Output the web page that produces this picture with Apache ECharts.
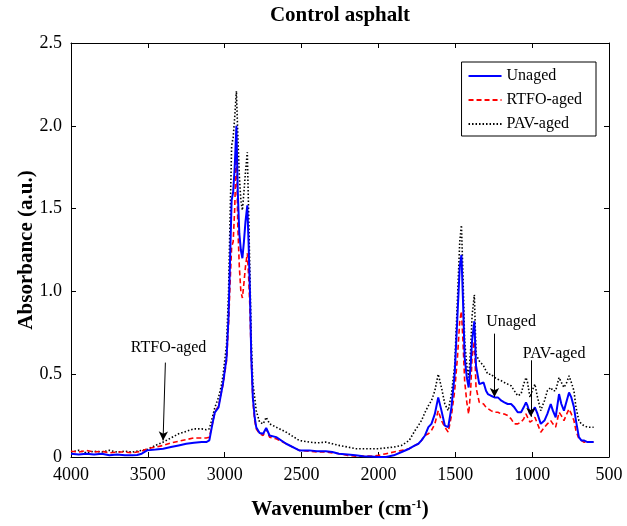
<!DOCTYPE html>
<html><head><meta charset="utf-8">
<script src="https://cdn.jsdelivr.net/npm/echarts@6/dist/echarts.min.js"></script>
<style>html,body{margin:0;padding:0;background:#fff}#c{width:627px;height:526px}</style>
</head><body><div id="c"></div>
<script>
const wavenumbers = [4000,3950,3900,3850,3800,3750,3700,3650,3600,3570,3540,3505,3450,3400,3350,3300,3250,3200,3150,3120,3100,3080,3064,3040,3020,3010,2988,2975,2965,2955,2945,2935,2924,2915,2905,2895,2885,2875,2865,2853,2845,2836,2827,2817,2805,2795,2773,2750,2730,2708,2665,2600,2515,2450,2400,2343,2300,2257,2200,2149,2100,2050,2000,1950,1900,1849,1800,1762,1740,1720,1697,1675,1655,1633,1611,1590,1568,1546,1525,1504,1486,1471,1460,1450,1439,1425,1413,1400,1391,1376,1365,1344,1331,1316,1300,1288,1268,1245,1223,1200,1181,1159,1137,1116,1094,1072,1055,1040,1030,1014,1000,982,965,944,920,901,879,865,847,825,810,793,775,760,745,728,715,696,680,664,640,620,600];
const unaged = [0.02,0.015,0.02,0.015,0.02,0.01,0.015,0.01,0.01,0.012,0.02,0.04,0.045,0.05,0.06,0.07,0.08,0.086,0.09,0.09,0.1,0.2,0.27,0.3,0.4,0.45,0.6,0.85,1.2,1.55,1.6,1.75,2.0,1.6,1.35,1.25,1.2,1.3,1.42,1.52,1.3,1.0,0.6,0.36,0.24,0.18,0.145,0.14,0.175,0.13,0.12,0.08,0.04,0.04,0.035,0.035,0.03,0.02,0.015,0.01,0.005,0.003,0.0,0.0,0.01,0.03,0.05,0.07,0.08,0.1,0.13,0.18,0.2,0.26,0.36,0.28,0.19,0.18,0.3,0.5,0.85,1.15,1.22,0.95,0.6,0.48,0.42,0.55,0.7,0.82,0.55,0.44,0.45,0.45,0.4,0.38,0.37,0.36,0.36,0.34,0.33,0.32,0.32,0.3,0.27,0.27,0.3,0.33,0.31,0.26,0.27,0.3,0.26,0.2,0.22,0.26,0.32,0.28,0.24,0.38,0.32,0.28,0.34,0.39,0.36,0.3,0.22,0.12,0.1,0.1,0.09,0.09,0.09];
const rtfoAged = [0.035,0.03,0.04,0.03,0.035,0.025,0.03,0.03,0.025,0.03,0.035,0.05,0.06,0.07,0.085,0.095,0.105,0.115,0.115,0.115,0.12,0.2,0.27,0.31,0.4,0.44,0.58,0.8,1.05,1.27,1.3,1.5,1.88,1.4,1.15,1.0,0.96,1.05,1.15,1.23,1.1,0.9,0.58,0.34,0.22,0.17,0.14,0.13,0.17,0.12,0.11,0.08,0.04,0.035,0.03,0.03,0.025,0.02,0.01,0.005,0.005,0.005,0.01,0.02,0.03,0.04,0.05,0.07,0.08,0.1,0.13,0.14,0.16,0.2,0.28,0.22,0.18,0.15,0.25,0.4,0.6,0.82,0.88,0.7,0.46,0.33,0.26,0.4,0.6,0.7,0.42,0.33,0.32,0.32,0.3,0.29,0.28,0.27,0.27,0.26,0.26,0.25,0.23,0.2,0.2,0.21,0.23,0.26,0.24,0.21,0.22,0.24,0.2,0.15,0.18,0.2,0.22,0.2,0.18,0.27,0.25,0.22,0.26,0.29,0.26,0.22,0.16,0.11,0.1,0.09,0.09,0.09,0.09];
const pavAged = [0.03,0.04,0.025,0.035,0.03,0.04,0.03,0.035,0.03,0.035,0.04,0.045,0.07,0.09,0.115,0.14,0.155,0.17,0.17,0.165,0.17,0.24,0.3,0.36,0.44,0.5,0.68,1.0,1.45,1.88,1.93,2.05,2.21,1.95,1.7,1.55,1.49,1.6,1.72,1.84,1.5,1.1,0.7,0.45,0.36,0.28,0.21,0.2,0.24,0.2,0.18,0.15,0.1,0.09,0.085,0.09,0.08,0.07,0.06,0.05,0.05,0.05,0.05,0.055,0.06,0.07,0.1,0.16,0.19,0.22,0.27,0.31,0.34,0.4,0.5,0.42,0.32,0.28,0.38,0.55,0.95,1.3,1.4,1.1,0.7,0.55,0.48,0.65,0.85,0.98,0.62,0.58,0.57,0.55,0.52,0.5,0.5,0.48,0.47,0.46,0.45,0.44,0.43,0.4,0.37,0.38,0.44,0.48,0.45,0.36,0.4,0.44,0.36,0.28,0.34,0.4,0.42,0.4,0.4,0.48,0.45,0.42,0.45,0.49,0.45,0.4,0.3,0.22,0.2,0.19,0.18,0.18,0.18];
const seriesNames = ['Unaged','RTFO-aged','PAV-aged'];
const xTicks = {min:500, max:4000, interval:500};
const yTicks = {min:0, max:2.5, interval:0.5};
// annotations: [label, labelX, labelY, arrowFromX, arrowFromY, arrowToX, arrowToY]
const annotations = [
  ['RTFO-aged', 3365, 0.66, 3386, 0.57, 3401, 0.1],
  ['Unaged', 1137, 0.815, 1245, 0.745, 1245, 0.363],
  ['PAV-aged', 857, 0.625, 1008, 0.584, 1008, 0.243]
];

const font = 'Liberation Serif, Times New Roman, serif';
const pair = arr => wavenumbers.map((w,i)=>[w,arr[i]]);

const chart = echarts.init(document.getElementById('c'));
const axisCommon = {
  axisLine:{show:true,onZero:false,lineStyle:{color:'#000',width:1}},
  axisTick:{show:true,inside:true,length:5,lineStyle:{color:'#000'}},
  splitLine:{show:false}
};
chart.setOption({
  animation:false,
  backgroundColor:'#fff',
  title:{text:'Control asphalt',left:335,top:0,textAlign:'center',
    textStyle:{fontFamily:font,fontWeight:'bold',fontSize:21,color:'#000'}},
  grid:{left:71,right:18,top:43,bottom:69},
  legend:{
    data:seriesNames, orient:'vertical', right:31, top:62,
    backgroundColor:'#fff', borderColor:'#000', borderWidth:1,
    padding:[6,14,4,6], itemGap:8, itemWidth:33, itemHeight:14,
    itemStyle:{opacity:0},
    textStyle:{fontFamily:font,fontSize:16,color:'#000'}
  },
  xAxis:[
    Object.assign({type:'value',inverse:true,min:xTicks.min,max:xTicks.max,interval:xTicks.interval,
      axisLabel:{fontFamily:font,fontSize:18,color:'#000',margin:9,formatter:v=>String(v)},
      name:'{a|Wavenumber (cm}{s|-1}{a|)}',nameLocation:'middle',nameGap:42,nameMoveOverlap:false,
      nameTextStyle:{rich:{a:{fontFamily:font,fontSize:21,fontWeight:'bold',color:'#000'},
        s:{fontFamily:font,fontSize:12,fontWeight:'bold',color:'#000',verticalAlign:'top',padding:[0,0,9,0]}}}
    },axisCommon),
    Object.assign({type:'value',inverse:true,position:'top',min:xTicks.min,max:xTicks.max,interval:xTicks.interval,
      axisLabel:{show:false}},axisCommon)
  ],
  yAxis:[
    Object.assign({type:'value',min:yTicks.min,max:yTicks.max,interval:yTicks.interval,
      axisLabel:{fontFamily:font,fontSize:18,color:'#000',margin:9,
        formatter:v=>v===0?'0':v.toFixed(1)},
      name:'Absorbance (a.u.)',nameLocation:'middle',nameGap:34,nameMoveOverlap:false,
      nameTextStyle:{fontFamily:font,fontSize:21,fontWeight:'bold',color:'#000'}
    },axisCommon),
    Object.assign({type:'value',position:'right',min:yTicks.min,max:yTicks.max,interval:yTicks.interval,
      axisLabel:{show:false}},axisCommon)
  ],
  series:[
    {name:seriesNames[2],type:'line',data:pair(pavAged),symbol:'none',z:2,
      lineStyle:{color:'#000',width:1.6,type:[1.5,2]},itemStyle:{color:'#000'}},
    {name:seriesNames[1],type:'line',data:pair(rtfoAged),symbol:'none',z:3,
      lineStyle:{color:'#ff0000',width:1.6,type:[5,3]},itemStyle:{color:'#ff0000'}},
    {name:seriesNames[0],type:'line',data:pair(unaged),symbol:'none',z:4,
      lineStyle:{color:'#0000ff',width:2},itemStyle:{color:'#0000ff'},
      markLine:{silent:true,symbol:['none','arrow'],symbolSize:[7,9],
        lineStyle:{color:'#000',width:1,type:'solid'},label:{show:false},
        data:annotations.map(a=>[{coord:[a[3],a[4]]},{coord:[a[5],a[6]]}])},
      markPoint:{silent:true,symbol:'circle',symbolSize:0,
        label:{show:true,position:'inside',fontFamily:font,fontSize:16,color:'#000',formatter:p=>p.name},
        data:annotations.map(a=>({name:a[0],coord:[a[1],a[2]]}))}
    }
  ]
});
</script></body></html>
